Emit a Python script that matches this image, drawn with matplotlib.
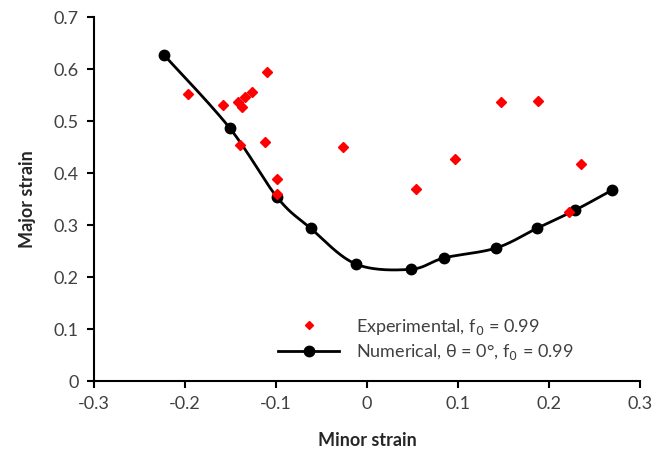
import numpy as np
import matplotlib
matplotlib.use("Agg")
import matplotlib.pyplot as plt
from matplotlib.lines import Line2D

plt.rcParams['font.family'] = ['Lato', 'DejaVu Sans']

# Experimental data
exp_minor = [-0.197, -0.158, -0.142, -0.137, -0.134, -0.126, -0.110, -0.140, -0.112,
             -0.099, -0.099, -0.026, 0.054, 0.097, 0.147, 0.188, 0.235, 0.222]
exp_major = [0.552, 0.531, 0.537, 0.527, 0.546, 0.556, 0.594, 0.454, 0.460,
             0.388, 0.360, 0.450, 0.369, 0.427, 0.537, 0.538, 0.417, 0.325]

# Numerical data
num_minor = [-0.223, -0.151, -0.099, -0.062, -0.012, 0.048, 0.085, 0.142, 0.187, 0.229, 0.269]
num_major = [0.627, 0.487, 0.354, 0.294, 0.225, 0.215, 0.237, 0.256, 0.294, 0.329, 0.367]

x_ticks = [-0.3, -0.2, -0.1, 0, 0.1, 0.2, 0.3]
y_ticks = [0, 0.1, 0.2, 0.3, 0.4, 0.5, 0.6, 0.7]
x_tick_labels = ['-0.3', '-0.2', '-0.1', '0', '0.1', '0.2', '0.3']
y_tick_labels = ['0', '0.1', '0.2', '0.3', '0.4', '0.5', '0.6', '0.7']

exp_label = 'Experimental, f$_0$ = 0.99'
num_label = 'Numerical, θ = 0°, f$_0$ = 0.99'


def catmull_rom(xs, ys, n=30):
    p = np.column_stack([xs, ys])
    p = np.vstack([p[0], p, p[-1]])
    out = []
    for i in range(1, len(p) - 2):
        p0, p1, p2, p3 = p[i - 1], p[i], p[i + 1], p[i + 2]
        t = np.linspace(0, 1, n)[:, None]
        seg = 0.5 * ((2 * p1) + (-p0 + p2) * t + (2 * p0 - 5 * p1 + 4 * p2 - p3) * t ** 2
                     + (-p0 + 3 * p1 - 3 * p2 + p3) * t ** 3)
        out.append(seg)
    c = np.vstack(out)
    return c[:, 0], c[:, 1]


fig = plt.figure(figsize=(6.53, 4.51), dpi=100)
ax = fig.add_axes([0.144, 0.155, 0.836, 0.807])

ax.plot(exp_minor, exp_major, linestyle='none', marker='D', color='#ff0000',
        markersize=5.5, zorder=3)

sx, sy = catmull_rom(num_minor, num_major)
ax.plot(sx, sy, color='black', linewidth=2.0, zorder=2)
ax.plot(num_minor, num_major, linestyle='none', marker='o', color='black',
        markersize=7.5, zorder=2)

ax.set_xlim(-0.3, 0.3)
ax.set_ylim(0, 0.7)
ax.set_xticks(x_ticks)
ax.set_yticks(y_ticks)
ax.set_xticklabels(x_tick_labels)
ax.set_yticklabels(y_tick_labels)

for s in ['top', 'right']:
    ax.spines[s].set_visible(False)
for s in ['left', 'bottom']:
    ax.spines[s].set_linewidth(1.5)
    ax.spines[s].set_color('black')
ax.tick_params(axis='both', direction='out', length=5, width=1.5, labelsize=13,
               color='black', labelcolor='#404040', pad=6)

ax.set_xlabel('Minor strain', fontsize=13, fontweight='bold', labelpad=14, color='#262626')
ax.set_ylabel('Major strain', fontsize=13, fontweight='bold', labelpad=13, color='#262626')

h_exp = Line2D([], [], linestyle='none', marker='D', color='#ff0000', markersize=4.2)
h_num = Line2D([], [], color='black', linewidth=2.0, marker='o', markersize=7.5)
leg = ax.legend([h_exp, h_num], [exp_label, num_label], loc='lower left',
                bbox_to_anchor=(0.337, 0.052), borderaxespad=0, borderpad=0,
                frameon=False, fontsize=13, handlelength=3.4, handletextpad=0.9,
                labelspacing=0.3)
for t in leg.get_texts():
    t.set_color('#404040')

fig.savefig('out.png', dpi=100)
